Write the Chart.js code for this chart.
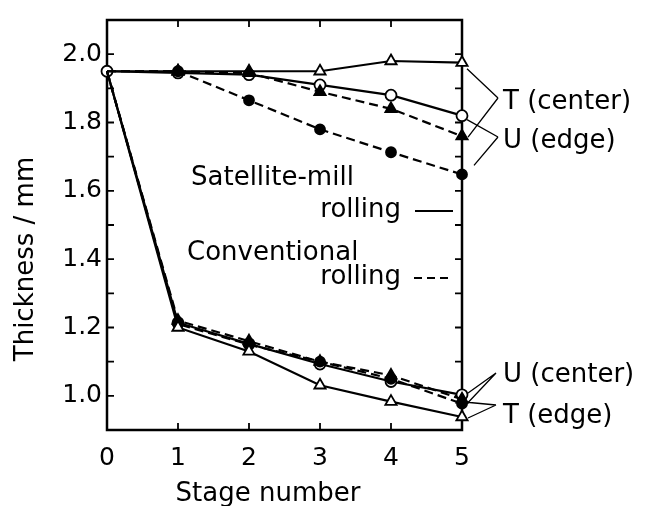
<!DOCTYPE html>
<html>
<head>
<meta charset="utf-8">
<script src="https://cdn.jsdelivr.net/npm/chart.js@4.4.1/dist/chart.umd.min.js"></script>
<style>
  html, body { margin: 0; padding: 0; background: #fff; }
  #wrap { width: 649px; height: 506px; }
</style>
</head>
<body>
<div id="wrap"><canvas id="chart" width="649" height="506"></canvas></div>
<script>
// data
const stages = ['0', '1', '2', '3', '4', '5'];
const tCenterSatellite    = [1.95, 1.95, 1.95, 1.95, 1.98, 1.975];
const tCenterConventional = [1.95, 1.95, 1.945, 1.89, 1.84, 1.76];
const uEdgeSatellite      = [1.95, 1.945, 1.94, 1.91, 1.88, 1.82];
const uEdgeConventional   = [1.95, 1.95, 1.865, 1.78, 1.713, 1.648];
const uCenterSatellite    = [1.95, 1.214, 1.152, 1.093, 1.042, 1.003];
const uCenterConventional = [1.95, 1.21, 1.15, 1.10, 1.05, 0.977];
const tEdgeSatellite      = [1.95, 1.20, 1.13, 1.031, 0.983, 0.938];
const tEdgeConventional   = [1.95, 1.22, 1.16, 1.10, 1.06, 0.99];
const yTickLabels = ['1.0', '1.2', '1.4', '1.6', '1.8', '2.0'];

const FONT = '"DejaVu Sans", sans-serif';

// makes a dataset; first point hidden except for the one shared open circle
function series(data, style, filled, dashed, showFirst) {
  const r = style === 'triangle' ? 6.5 : (filled ? 5 : 5.5);
  return {
    data: data,
    borderColor: '#000',
    borderWidth: 2.2,
    borderDash: dashed ? [9, 5] : [],
    pointStyle: style,
    pointRadius: data.map((v, i) => (i === 0 && !showFirst) ? 0 : r),
    pointBorderWidth: 1.8,
    pointBorderColor: '#000',
    pointBackgroundColor: filled ? '#000' : '#fff',
    tension: 0,
    clip: false
  };
}

// frame, inward ticks and all the lettering
const decor = {
  id: 'decor',
  beforeDatasetsDraw(chart) {
    const ctx = chart.ctx;
    const a = chart.chartArea;
    const xs = chart.scales.x, ys = chart.scales.y;
    ctx.save();
    ctx.strokeStyle = '#000';
    ctx.lineWidth = 2.5;
    ctx.strokeRect(a.left, a.top, a.right - a.left, a.bottom - a.top);
    ctx.lineWidth = 1.8;
    ctx.beginPath();
    for (let v = 9; v <= 21; v++) {
      const y = ys.getPixelForValue(v / 10);
      ctx.moveTo(a.left, y); ctx.lineTo(a.left + 7, y);
      ctx.moveTo(a.right, y); ctx.lineTo(a.right - 7, y);
    }
    for (let i = 1; i < stages.length - 1; i++) {
      const x = xs.getPixelForValue(i);
      ctx.moveTo(x, a.top); ctx.lineTo(x, a.top + 7);
      ctx.moveTo(x, a.bottom); ctx.lineTo(x, a.bottom - 7);
    }
    ctx.stroke();
    ctx.restore();
  },
  afterDraw(chart) {
    const ctx = chart.ctx;
    const xs = chart.scales.x, ys = chart.scales.y;
    const x5 = xs.getPixelForValue(5);
    const last = arr => ys.getPixelForValue(arr[arr.length - 1]);
    ctx.save();
    ctx.fillStyle = '#000';
    ctx.strokeStyle = '#000';

    // axis titles
    ctx.font = '26px ' + FONT;
    ctx.textAlign = 'center';
    ctx.textBaseline = 'alphabetic';
    ctx.fillText('Stage number', 268, 501);
    ctx.save();
    ctx.translate(33, 259);
    ctx.rotate(-Math.PI / 2);
    ctx.fillText('Thickness / mm', 0, 0);
    ctx.restore();

    // line-style key
    ctx.font = '26px ' + FONT;
    ctx.textAlign = 'left';
    ctx.fillText('Satellite-mill', 191, 185);
    ctx.fillText('Conventional', 187, 260);
    ctx.textAlign = 'right';
    ctx.fillText('rolling', 401, 217);
    ctx.fillText('rolling', 401, 284);
    ctx.lineWidth = 2;
    ctx.beginPath();
    ctx.moveTo(415, 211); ctx.lineTo(453, 211);
    ctx.stroke();
    ctx.setLineDash([8, 5]);
    ctx.beginPath();
    ctx.moveTo(414, 278); ctx.lineTo(453, 278);
    ctx.stroke();
    ctx.setLineDash([]);

    // right-hand labels with leader lines
    ctx.textAlign = 'left';
    ctx.fillText('T (center)', 503, 109);
    ctx.fillText('U (edge)', 503, 148);
    ctx.fillText('U (center)', 503, 382);
    ctx.fillText('T (edge)', 503, 423);
    ctx.lineWidth = 1.3;
    const lead = (ax, ay, tx, ty) => { ctx.moveTo(ax, ay); ctx.lineTo(tx, ty); };
    ctx.beginPath();
    lead(498, 98, x5 + 5, last(tCenterSatellite) + 6);
    lead(498, 98, x5 + 6, last(tCenterConventional) + 1);
    lead(498, 137, x5 + 5, last(uEdgeSatellite) + 4);
    lead(498, 137, x5 + 12, last(uEdgeConventional) - 9);
    lead(496, 373, x5 + 5, last(uCenterSatellite) - 1);
    lead(496, 373, x5 + 4, last(uCenterConventional) + 1);
    lead(496, 405, x5 + 5, last(tEdgeConventional) + 3);
    lead(496, 405, x5 + 6, last(tEdgeSatellite) + 1);
    ctx.stroke();
    ctx.restore();
  }
};

new Chart(document.getElementById('chart'), {
  type: 'line',
  data: {
    labels: stages,
    datasets: [
      series(tEdgeSatellite, 'triangle', false, false, false),
      series(tEdgeConventional, 'triangle', true, true, false),
      series(uCenterConventional, 'circle', true, true, false),
      series(uCenterSatellite, 'circle', false, false, false),
      series(uEdgeConventional, 'circle', true, true, false),
      series(tCenterConventional, 'triangle', true, true, false),
      series(tCenterSatellite, 'triangle', false, false, false),
      series(uEdgeSatellite, 'circle', false, false, true)
    ]
  },
  options: {
    responsive: false,
    animation: false,
    layout: { padding: { top: 9, right: 187, left: 0, bottom: 0 } },
    plugins: { legend: { display: false }, tooltip: { enabled: false } },
    scales: {
      x: {
        offset: false,
        grid: { display: false, drawTicks: false },
        border: { display: false },
        ticks: { color: '#000', font: { family: FONT, size: 25 }, padding: 13, maxRotation: 0 },
        afterFit(scale) { scale.height = 76; }
      },
      y: {
        min: 0.9,
        max: 2.1,
        grid: { display: false, drawTicks: false },
        border: { display: false },
        ticks: {
          stepSize: 0.1,
          autoSkip: false,
          color: '#000',
          padding: 5,
          font: { family: FONT, size: 25 },
          callback(v) {
            const s = (Math.round(v * 10) / 10).toFixed(1);
            return yTickLabels.includes(s) ? s : '';
          }
        },
        afterFit(scale) { scale.width = 107; }
      }
    }
  },
  plugins: [decor]
});
</script>
</body>
</html>
